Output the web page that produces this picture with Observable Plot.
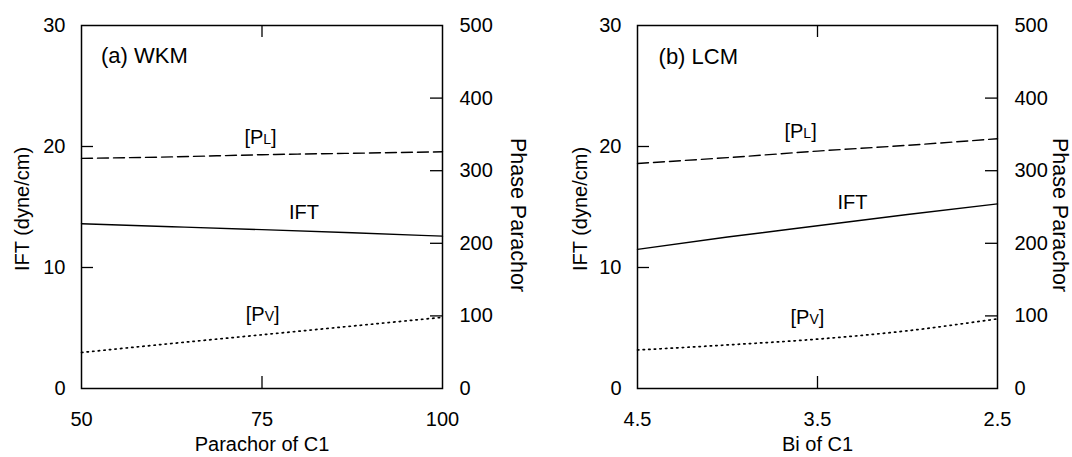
<!DOCTYPE html>
<html><head><meta charset="utf-8">
<script src="https://cdn.jsdelivr.net/npm/d3@7"></script>
<script src="https://cdn.jsdelivr.net/npm/@observablehq/plot@0.6"></script>
<style>
html,body{margin:0;padding:0;background:#fff;}
#wrap{display:flex;width:1072px;height:457px;overflow:hidden;}
</style></head><body><div id="wrap"></div>
<script>
// Panel (a) WKM: x = Parachor of C1
const parachorC1 = [50, 62.5, 75, 87.5, 100];
const wkmIFT = [13.61, 13.37, 13.13, 12.87, 12.59];
const wkmPL = [317, 319, 322, 324, 326];
const wkmPV = [49.6, 62, 74, 86, 98];

// Panel (b) LCM: x = Bi of C1
const biC1 = [4.5, 4.0, 3.5, 3.0, 2.5];
const lcmIFT = [11.5, 12.52, 13.45, 14.38, 15.26];
const lcmPL = [310, 318, 327, 335, 344];
const lcmPV = [53, 60, 68, 79.5, 96];

// Tick labels
const iftTicks = [0, 10, 20, 30];
const parTicks = [0, 100, 200, 300, 400, 500];
const wkmXTicks = [50, 75, 100];
const lcmXTicks = [4.5, 3.5, 2.5];

const K = 30 / 500; // parachor -> IFT axis units
const FONT = "'Liberation Sans', Arial, Helvetica, sans-serif";

function panel(o) {
  const H = 457, mt = 25, mb = 69;
  const pw = o.width - o.ml - o.mr, ph = H - mt - mb;
  const rows = o.xs.map((x, i) => ({x, ift: o.ift[i], pl: o.pl[i] * K, pv: o.pv[i] * K}));
  const innerY = iftTicks.slice(1, -1);
  const innerP = parTicks.slice(1, -1).map(v => v * K);
  const midX = [o.xTicks[1]];
  const svg = Plot.plot({
    width: o.width, height: H,
    marginTop: mt, marginBottom: mb, marginLeft: o.ml, marginRight: o.mr,
    style: {fontFamily: FONT, fontSize: "20px", color: "#000", background: "#fff"},
    x: {domain: o.xDomain, axis: null},
    y: {domain: [0, 30], axis: null},
    marks: [
      Plot.axisX(o.xTicks, {anchor: "bottom", tickSize: 0, tickPadding: 23, tickFormat: o.xFmt, fontSize: 20, label: null}),
      Plot.axisY(iftTicks, {anchor: "left", tickSize: 0, tickPadding: 16, fontSize: 20, label: null}),
      Plot.axisY(parTicks.map(v => v * K), {anchor: "right", tickSize: 0, tickPadding: 17, fontSize: 20, label: null, tickFormat: d => String(Math.round(d / K))}),
      Plot.tickY(innerY, {y: d => d, insetRight: pw - 12, stroke: "#000", strokeWidth: 1.3}),
      Plot.tickY(innerP, {y: d => d, insetLeft: pw - 12, stroke: "#000", strokeWidth: 1.3}),
      Plot.tickX(midX, {x: d => d, insetBottom: ph - 12, stroke: "#000", strokeWidth: 1.3}),
      Plot.tickX(midX, {x: d => d, insetTop: ph - 12, stroke: "#000", strokeWidth: 1.3}),
      Plot.line(rows, {x: "x", y: "pl", stroke: "#000", strokeWidth: 1.4, strokeDasharray: "11,5", curve: "monotone-x"}),
      Plot.line(rows, {x: "x", y: "ift", stroke: "#000", strokeWidth: 1.4, curve: "monotone-x"}),
      Plot.line(rows, {x: "x", y: "pv", stroke: "#000", strokeWidth: 1.7, strokeDasharray: "1.4,4.2", curve: "monotone-x"}),
      Plot.frame({stroke: "#000", strokeWidth: 1.5}),
      Plot.text([o.panelLabel], {x: o.lab.panel[0], y: o.lab.panel[1], text: d => d, textAnchor: "start", fontSize: 22}),
      Plot.text(["[PL]"], {x: o.lab.pl[0], y: o.lab.pl[1], text: d => d, fontSize: 20}),
      Plot.text(["IFT"], {x: o.lab.ift[0], y: o.lab.ift[1], text: d => d, fontSize: 20}),
      Plot.text(["[PV]"], {x: o.lab.pv[0], y: o.lab.pv[1], text: d => d, fontSize: 20}),
      Plot.text([o.xTitle], {text: d => d, frameAnchor: "bottom", dy: 56, textAnchor: "middle", lineAnchor: "middle", fontSize: 20}),
      Plot.text(["IFT (dyne/cm)"], {text: d => d, frameAnchor: "left", dx: o.yDx, dy: 2, rotate: -90, textAnchor: "middle", lineAnchor: "middle", fontSize: 20}),
      Plot.text(["Phase Parachor"], {text: d => d, frameAnchor: "right", dx: o.rDx, dy: 8, rotate: 90, textAnchor: "middle", lineAnchor: "middle", fontSize: 21.5})
    ]
  });
  // small-capital subscript letters inside [PL] and [PV]
  d3.select(svg).selectAll("text").each(function () {
    const t = this.textContent;
    if (t === "[PL]" || t === "[PV]") {
      const s = d3.select(this);
      s.text(null);
      s.append("tspan").text("[P");
      s.append("tspan").attr("font-size", 14).text(t[2]);
      s.append("tspan").text("]");
    }
  });
  return svg;
}

const wrap = document.getElementById("wrap");
wrap.append(panel({
  xs: parachorC1, ift: wkmIFT, pl: wkmPL, pv: wkmPV,
  xDomain: [50, 100], xTicks: wkmXTicks, xFmt: d => String(d),
  width: 536, ml: 81, mr: 94,
  xTitle: "Parachor of C1", panelLabel: "(a) WKM",
  lab: {panel: [52.7, 27.5], pl: [74.8, 20.75], ift: [80.8, 14.55], pv: [75.1, 6.1]},
  yDx: -59, rDx: 75
}));
wrap.append(panel({
  xs: biC1, ift: lcmIFT, pl: lcmPL, pv: lcmPV,
  xDomain: [4.5, 2.5], xTicks: lcmXTicks, xFmt: d3.format(".1f"),
  width: 536, ml: 101, mr: 75,
  xTitle: "Bi of C1", panelLabel: "(b) LCM",
  lab: {panel: [4.383, 27.4], pl: [3.594, 21.2], ift: [3.306, 15.4], pv: [3.556, 5.82]},
  yDx: -57, rDx: 62
}));
</script>
</body></html>
